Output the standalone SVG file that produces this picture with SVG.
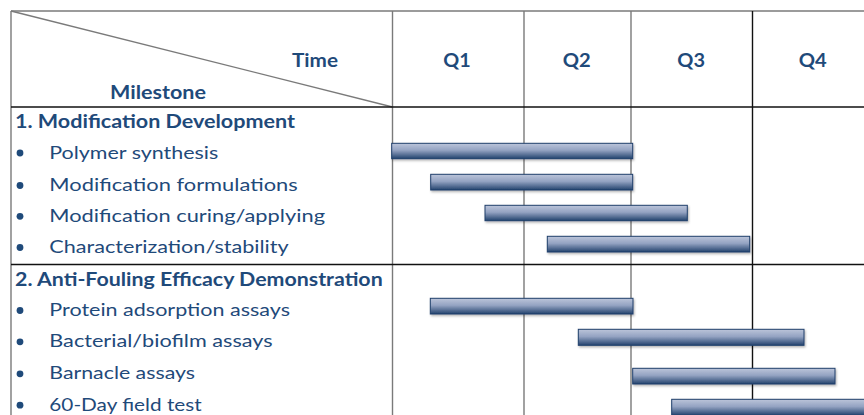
<svg xmlns="http://www.w3.org/2000/svg" width="864" height="415" viewBox="0 0 864 415">
  <style>
    text { font-family: Lato, "Open Sans", "Liberation Sans", sans-serif; fill: #1F4A7A; }
    .hdr { font-size: 19px; font-weight: bold; }
    .sec { font-size: 18.5px; font-weight: bold; }
    .item { font-size: 18px; }
    .gray { stroke: #7a7a7a; stroke-width: 1.4; fill: none; }
    .dark { stroke: #111; stroke-width: 1.4; fill: none; }
    .bar { fill: url(#barFill); stroke: #1f3f6b; stroke-width: 1; filter: url(#barShadow); }
    .dot { fill: #1F4A7A; }
  </style>
  <defs>
    <linearGradient id="barFill" x1="0" y1="0" x2="0" y2="1">
      <stop offset="0" stop-color="#bcc5da"/>
      <stop offset="0.45" stop-color="#94a3c2"/>
      <stop offset="1" stop-color="#23436e"/>
    </linearGradient>
    <filter id="barShadow" x="-5%" y="-30%" width="110%" height="180%">
      <feDropShadow dx="1" dy="1.5" stdDeviation="1" flood-color="#000" flood-opacity="0.3"/>
    </filter>
  </defs>

  <!-- table grid -->
  <g id="grid">
    <line class="gray" x1="11" y1="11" x2="864" y2="11"/>
    <line class="gray" x1="11" y1="11" x2="11" y2="415"/>
    <line class="gray" x1="11" y1="11" x2="392.5" y2="107"/>
    <line class="gray" x1="392.5" y1="11" x2="392.5" y2="415"/>
    <line class="gray" x1="524" y1="11" x2="524" y2="415"/>
    <line class="gray" x1="631" y1="11" x2="631" y2="415"/>
    <line class="dark" x1="752.5" y1="11" x2="752.5" y2="415"/>
    <line class="dark" x1="11" y1="107" x2="864" y2="107"/>
    <line class="dark" x1="11" y1="264.5" x2="864" y2="264.5"/>
  </g>

  <!-- header cells -->
  <g id="header">
    <text class="hdr" x="292" y="66.7" textLength="46" lengthAdjust="spacingAndGlyphs">Time</text>
    <text class="hdr" x="110" y="99" textLength="96" lengthAdjust="spacingAndGlyphs">Milestone</text>
    <text class="hdr" x="443.3" y="66.7" textLength="27.4" lengthAdjust="spacingAndGlyphs">Q1</text>
    <text class="hdr" x="562.7" y="66.7" textLength="28" lengthAdjust="spacingAndGlyphs">Q2</text>
    <text class="hdr" x="677.3" y="66.7" textLength="27.7" lengthAdjust="spacingAndGlyphs">Q3</text>
    <text class="hdr" x="798.7" y="66.7" textLength="28" lengthAdjust="spacingAndGlyphs">Q4</text>
  </g>

  <!-- milestone rows -->
  <g id="sec1">
    <text class="sec" x="15" y="128.3" textLength="280" lengthAdjust="spacingAndGlyphs">1. Modification Development</text>
  </g>
  <g id="row-polymer">
    <circle class="dot" cx="20" cy="153" r="3.4"/>
    <text class="item" x="49.3" y="158.5" textLength="169" lengthAdjust="spacingAndGlyphs">Polymer synthesis</text>
    <rect class="bar" x="391.7" y="143.3" width="241" height="15.4"/>
  </g>
  <g id="row-formulations">
    <circle class="dot" cx="20" cy="185.5" r="3.4"/>
    <text class="item" x="49.3" y="191" textLength="248.4" lengthAdjust="spacingAndGlyphs">Modification formulations</text>
    <rect class="bar" x="430.7" y="174.3" width="202" height="15.7"/>
  </g>
  <g id="row-curing">
    <circle class="dot" cx="20" cy="216.3" r="3.4"/>
    <text class="item" x="49.3" y="221.7" textLength="275.7" lengthAdjust="spacingAndGlyphs">Modification curing/applying</text>
    <rect class="bar" x="485" y="205.3" width="202.3" height="15.4"/>
  </g>
  <g id="row-characterization">
    <circle class="dot" cx="20" cy="247.5" r="3.4"/>
    <text class="item" x="49.3" y="253" textLength="239.4" lengthAdjust="spacingAndGlyphs">Characterization/stability</text>
    <rect class="bar" x="547.3" y="236.3" width="202.4" height="15.7"/>
  </g>

  <g id="sec2">
    <text class="sec" x="15" y="286" textLength="367.7" lengthAdjust="spacingAndGlyphs">2. Anti-Fouling Efficacy Demonstration</text>
  </g>
  <g id="row-protein">
    <circle class="dot" cx="20" cy="310.5" r="3.4"/>
    <text class="item" x="49.3" y="316" textLength="240.7" lengthAdjust="spacingAndGlyphs">Protein adsorption assays</text>
    <rect class="bar" x="430.3" y="298.3" width="202.7" height="15.7"/>
  </g>
  <g id="row-bacterial">
    <circle class="dot" cx="20" cy="341.8" r="3.4"/>
    <text class="item" x="49.3" y="347.3" textLength="223.4" lengthAdjust="spacingAndGlyphs">Bacterial/biofilm assays</text>
    <rect class="bar" x="578.3" y="329.3" width="225.7" height="16"/>
  </g>
  <g id="row-barnacle">
    <circle class="dot" cx="20" cy="373.8" r="3.4"/>
    <text class="item" x="49.3" y="379.3" textLength="145.7" lengthAdjust="spacingAndGlyphs">Barnacle assays</text>
    <rect class="bar" x="632.7" y="368.3" width="202.3" height="15.7"/>
  </g>
  <g id="row-fieldtest">
    <circle class="dot" cx="20" cy="405.2" r="3.4"/>
    <text class="item" x="49.3" y="410.7" textLength="152.4" lengthAdjust="spacingAndGlyphs">60-Day field test</text>
    <rect class="bar" x="671.7" y="399.3" width="210" height="16"/>
  </g>

  <!-- no connectors in this chart -->
  <g id="connectors"/>
</svg>
